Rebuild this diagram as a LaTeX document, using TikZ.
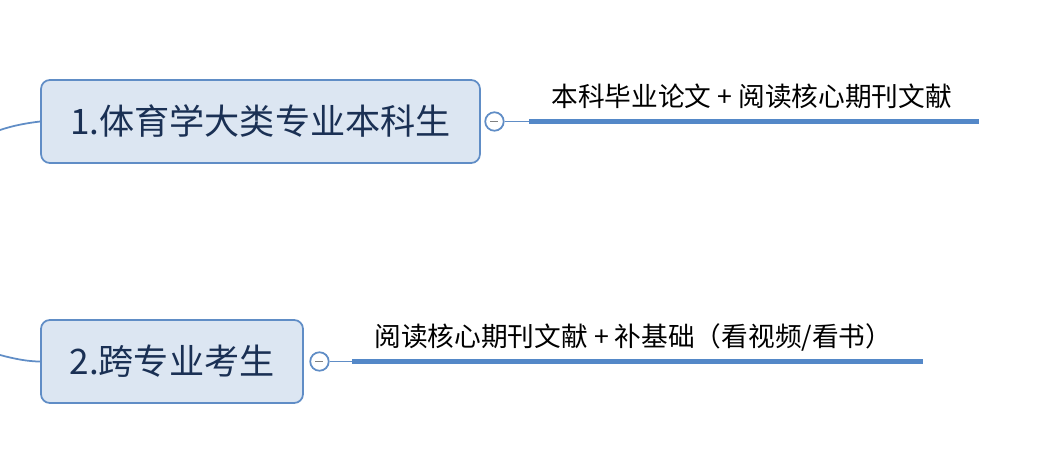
\documentclass[tikz,border=0pt]{standalone}
\usepackage{fontspec}
\newfontfamily\cjk{Noto Sans CJK SC}
\usepackage{xcolor}
\usetikzlibrary{positioning}
\definecolor{topicblue}{RGB}{96,141,198}
\definecolor{topicbg}{RGB}{220,230,242}
\definecolor{topicink}{RGB}{26,48,84}
\definecolor{barblue}{RGB}{84,136,200}

\begin{document}
\begin{tikzpicture}[
  x=0.02cm, y=-0.02cm,
  topic/.style={draw=topicblue, line width=1pt, rounded corners=5pt,
                fill=topicbg, minimum height=1.66cm, inner sep=0pt,
                font=\cjk\fontsize{20}{22}\selectfont, text=topicink},
  fold/.style={circle, draw=topicblue, fill=white, line width=1pt,
               minimum size=0.37cm, inner sep=0pt},
  link/.style={topicblue, line width=1pt},
  bar/.style={barblue, line width=2.85pt},
  note/.style={font=\cjk\fontsize{15.2}{18}\selectfont, inner sep=0pt,
               anchor=base west},
]
\useasboundingbox (0,0) rectangle (1059,473);

% first branch
\node[topic, minimum width=8.78cm] (undergrad) at (260.5,121.5) {1.体育学大类专业本科生};
\node[fold, right=0.07cm of undergrad] (foldA) {};
\draw[gray, line width=0.9pt] (foldA.center) +(-4,0) -- +(4,0);
\coordinate (barA) at ([xshift=0.49cm]foldA.east);
\coordinate (barAend) at ([xshift=9cm]barA);
\draw[link] (foldA) -- (barA);
\draw[bar] (barA) -- (barAend);
\path (barA) ++(22,-15) node[note] (noteA) {本科毕业论文 + 阅读核心期刊文献};
\coordinate (rootA) at (0,130);
\draw[link] (rootA) .. controls (15,125) and (28,123) .. (undergrad.west);

% second branch
\node[topic, minimum width=5.24cm] (crossmajor) at (172,361.5) {2.跨专业考生};
\node[fold, right=0.11cm of crossmajor] (foldB) {};
\draw[gray, line width=0.9pt] (foldB.center) +(-4,0) -- +(4,0);
\coordinate (barB) at ([xshift=0.45cm]foldB.east);
\coordinate (barBend) at ([xshift=11.42cm]barB);
\draw[link] (foldB) -- (barB);
\draw[bar] (barB) -- (barBend);
\path (barB) ++(22,-15) node[note] (noteB) {阅读核心期刊文献 + 补基础（看视频/看书）};
\coordinate (rootB) at (0,355);
\draw[link] (rootB) .. controls (15,359) and (28,361.5) .. (crossmajor.west);
\end{tikzpicture}
\end{document}
